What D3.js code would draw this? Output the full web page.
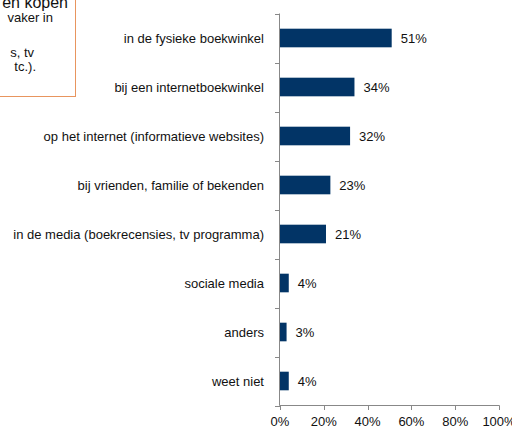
<!DOCTYPE html>
<html><head><meta charset="utf-8">
<script src="https://cdn.jsdelivr.net/npm/d3@7"></script>
<style>body{margin:0;background:#fff}svg{display:block;font-family:"Liberation Sans",Arial,sans-serif}</style>
</head><body><svg id="c" width="512" height="428"></svg>
<script>
const categories = ["in de fysieke boekwinkel","bij een internetboekwinkel","op het internet (informatieve websites)","bij vrienden, familie of bekenden","in de media (boekrecensies, tv programma)","sociale media","anders","weet niet"];
const values = [51,34,32,23,21,4,3,4];
const xTicks = [0,20,40,60,80,100];
const noteLines = [{t:"en kopen",x:68,y:8,s:16},{t:"vaker in",x:53,y:21.5,s:13},{t:"s, tv",x:34,y:57,s:13},{t:"tc.).",x:36,y:70.5,s:13}];

const svg = d3.select("#c");
const x = d3.scaleLinear().domain([0,100]).range([280,499]);
const y = d3.scaleBand().domain(categories).range([13.5,405.5]).paddingInner(0.62).paddingOuter(0.31);
const yb = d3.scaleBand().domain(categories).range([13.5,405.5]);

// note box
svg.append("rect").attr("x",-2).attr("y",-2).attr("width",77.5).attr("height",98.5)
  .attr("fill","#fff").attr("stroke","#e8955e").attr("stroke-width",1);
svg.selectAll("text.note").data(noteLines).join("text").attr("class","note")
  .attr("x",d=>d.x).attr("y",d=>d.y).attr("text-anchor","end")
  .attr("font-size",d=>d.s).attr("fill","#111").text(d=>d.t);

// bars
svg.selectAll("rect.bar").data(values).join("rect").attr("class","bar")
  .attr("x",x(0)).attr("y",(d,i)=>y(categories[i]))
  .attr("width",d=>x(d)-x(0)).attr("height",y.bandwidth())
  .attr("fill","#023466");
svg.selectAll("text.val").data(values).join("text").attr("class","val")
  .attr("x",d=>x(d)+9).attr("y",(d,i)=>y(categories[i])+y.bandwidth()/2)
  .attr("dy","0.36em").attr("font-size",13).attr("fill","#111").text(d=>d+"%");

// y axis
svg.append("line").attr("x1",279.5).attr("x2",279.5).attr("y1",13.5).attr("y2",405.5).attr("stroke","#888");
const bounds = categories.map(c=>yb(c)).concat([405.5]);
svg.selectAll("line.yt").data(bounds).join("line").attr("class","yt")
  .attr("x1",275).attr("x2",280).attr("y1",d=>Math.round(d)+0.5).attr("y2",d=>Math.round(d)+0.5).attr("stroke","#888");
svg.selectAll("text.cat").data(categories).join("text").attr("class","cat")
  .attr("x",264).attr("y",c=>yb(c)+yb.bandwidth()/2).attr("dy","0.36em")
  .attr("text-anchor","end").attr("font-size",13).attr("fill","#111").text(c=>c);

// x axis
svg.append("line").attr("x1",279.5).attr("x2",499.5).attr("y1",405.5).attr("y2",405.5).attr("stroke","#888");
svg.selectAll("line.xt").data(xTicks).join("line").attr("class","xt")
  .attr("x1",d=>Math.round(x(d))+0.5).attr("x2",d=>Math.round(x(d))+0.5)
  .attr("y1",405.5).attr("y2",410).attr("stroke","#888");
svg.selectAll("text.xl").data(xTicks).join("text").attr("class","xl")
  .attr("x",d=>x(d)).attr("y",426).attr("text-anchor","middle")
  .attr("font-size",13).attr("fill","#111").text(d=>d+"%");
</script></body></html>
